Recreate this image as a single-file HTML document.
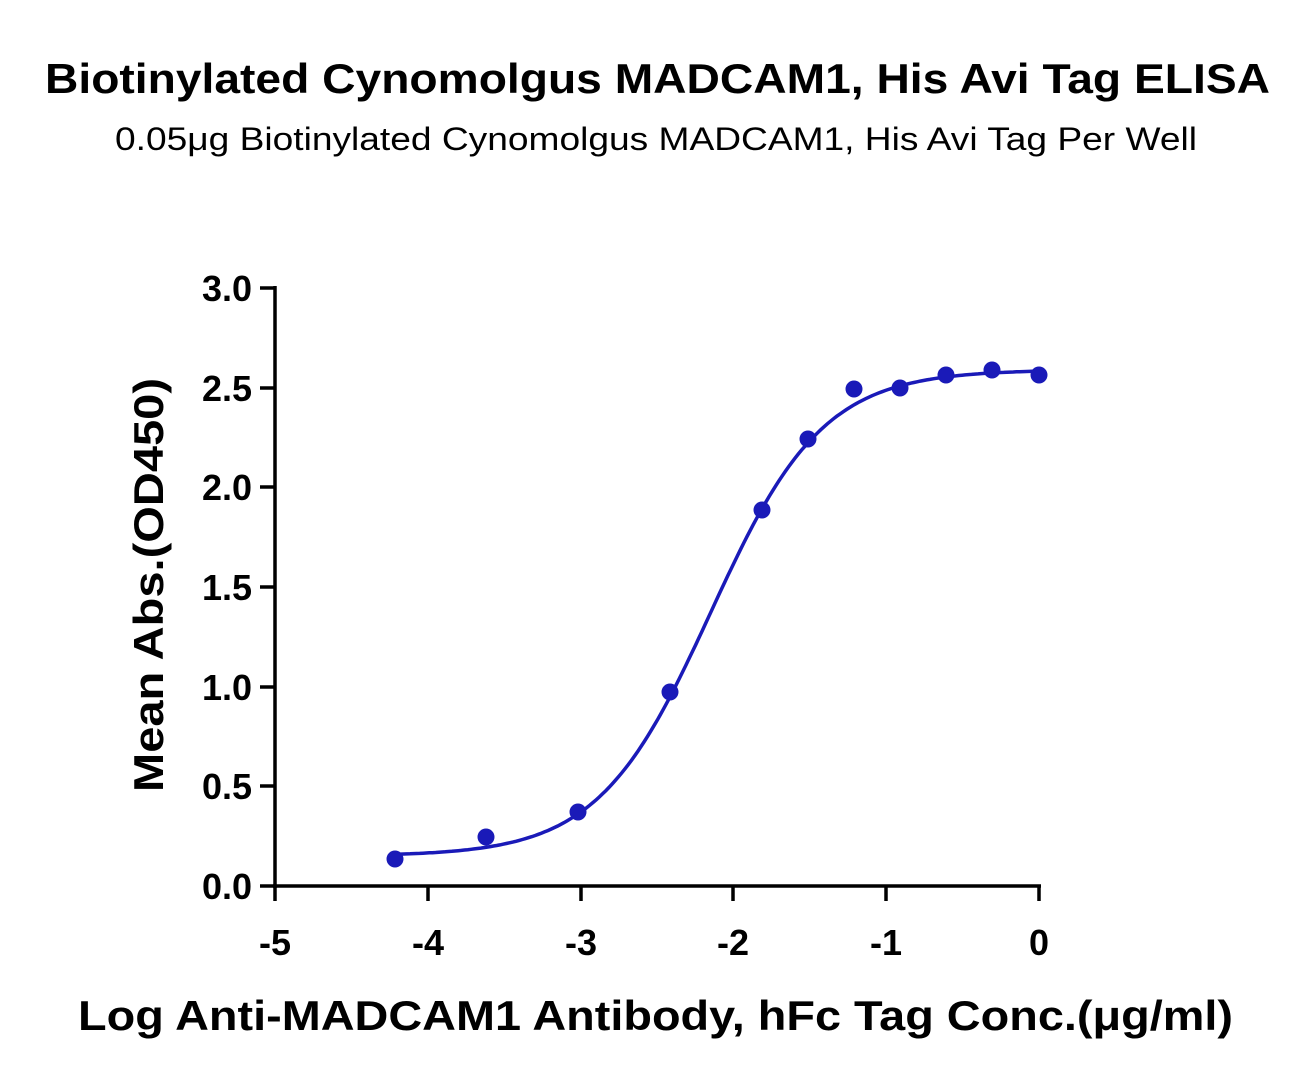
<!DOCTYPE html>
<html><head><meta charset="utf-8"><style>
html,body{margin:0;padding:0;background:#fff;}
</style></head><body>
<svg id="s" width="1314" height="1086" xmlns="http://www.w3.org/2000/svg" font-family="Liberation Sans, DejaVu Sans, sans-serif">
<text x="45" y="93" font-size="42" font-weight="bold" textLength="1225" lengthAdjust="spacingAndGlyphs">Biotinylated Cynomolgus MADCAM1, His Avi Tag ELISA</text>
<text x="115" y="150" font-size="32" textLength="1082" lengthAdjust="spacingAndGlyphs">0.05μg Biotinylated Cynomolgus MADCAM1, His Avi Tag Per Well</text>
<g stroke="#000" stroke-width="3.5" fill="none">
<line x1="275" y1="286" x2="275" y2="888"/>
<line x1="273" y1="886" x2="1041" y2="886"/>
<line x1="260" y1="288" x2="275" y2="288"/>
<line x1="260" y1="388" x2="275" y2="388"/>
<line x1="260" y1="487" x2="275" y2="487"/>
<line x1="260" y1="587" x2="275" y2="587"/>
<line x1="260" y1="687" x2="275" y2="687"/>
<line x1="260" y1="786" x2="275" y2="786"/>
<line x1="260" y1="886" x2="275" y2="886"/>
<line x1="275" y1="886" x2="275" y2="901"/>
<line x1="428" y1="886" x2="428" y2="901"/>
<line x1="581" y1="886" x2="581" y2="901"/>
<line x1="733" y1="886" x2="733" y2="901"/>
<line x1="886" y1="886" x2="886" y2="901"/>
<line x1="1039" y1="886" x2="1039" y2="901"/>
</g>
<g font-size="36" font-weight="bold" text-anchor="end">
<text x="252" y="301">3.0</text><text x="252" y="401">2.5</text><text x="252" y="500">2.0</text>
<text x="252" y="600">1.5</text><text x="252" y="700">1.0</text><text x="252" y="799">0.5</text><text x="252" y="899">0.0</text>
</g>
<g font-size="36" font-weight="bold" text-anchor="middle">
<text x="275" y="955">-5</text><text x="428" y="955">-4</text><text x="581" y="955">-3</text>
<text x="733" y="955">-2</text><text x="886" y="955">-1</text><text x="1039" y="955">0</text>
</g>
<text x="78" y="1030" font-size="42" font-weight="bold" textLength="1155" lengthAdjust="spacingAndGlyphs">Log Anti-MADCAM1 Antibody, hFc Tag Conc.(μg/ml)</text>
<text transform="translate(163,792) rotate(-90)" font-size="42" font-weight="bold" textLength="414" lengthAdjust="spacingAndGlyphs">Mean Abs.(OD450)</text>
<path id="c" fill="none" stroke="#1a1ab8" stroke-width="3.5"/>
<g fill="#1a1ab8">
<circle cx="395" cy="859" r="8.5"/><circle cx="486" cy="837" r="8.5"/><circle cx="578" cy="812" r="8.5"/>
<circle cx="670" cy="692" r="8.5"/><circle cx="762" cy="510" r="8.5"/><circle cx="808" cy="439" r="8.5"/>
<circle cx="854" cy="389" r="8.5"/><circle cx="900" cy="388" r="8.5"/><circle cx="946" cy="375" r="8.5"/>
<circle cx="992" cy="370" r="8.5"/><circle cx="1039" cy="375" r="8.5"/>
</g>
</svg>
<script>
var d="";for(var i=0;i<=200;i++){var L=-4.2+4.2*i/200;var v=0.15+2.44/(1+Math.pow(10,1.18*(-2.15-L)));
var x=275+(L+5)*152.8,y=886-v*199.33;d+=(i?"L":"M")+x.toFixed(1)+","+y.toFixed(1);}
document.getElementById("c").setAttribute("d",d);
</script>
</body></html>
